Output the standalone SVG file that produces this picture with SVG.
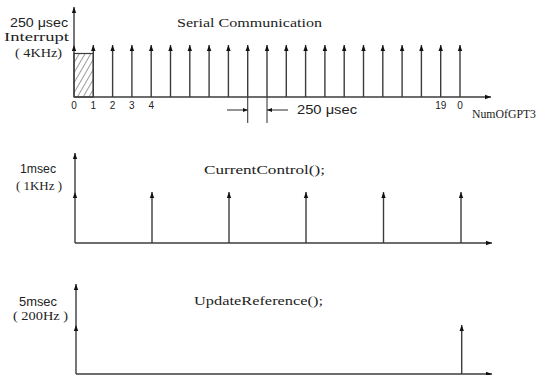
<svg xmlns="http://www.w3.org/2000/svg" width="539" height="375" viewBox="0 0 539 375">
  <style>
    .ln { stroke: #3c3c3c; stroke-width: 1.1; fill: none; }
    .ax { stroke: #3c3c3c; stroke-width: 1.4; fill: none; marker-end: url(#ah); }
    .pl { stroke: #3c3c3c; stroke-width: 1.4; fill: none; marker-end: url(#ah); }
    .hd { fill: #111; }
    .sf { font-family: "Liberation Serif", "DejaVu Serif", serif; font-size: 13px; fill: #222; }
    .sm { font-family: "Liberation Serif", "DejaVu Serif", serif; font-size: 12px; fill: #222; }
    .ss { font-family: "Liberation Sans", "DejaVu Sans", sans-serif; font-size: 12px; fill: #222; }
    .tk { font-family: "Liberation Sans", "DejaVu Sans", sans-serif; font-size: 10px; fill: #222; text-anchor: middle; }
  </style>
  <defs>
    <marker id="ah" markerWidth="8" markerHeight="8" refX="6" refY="3" orient="auto" markerUnits="userSpaceOnUse">
      <path d="M0,0.8 L6,3 L0,5.2 Z" fill="#111"/>
    </marker>
    <marker id="ahs" markerWidth="8" markerHeight="8" refX="5" refY="2.5" orient="auto" markerUnits="userSpaceOnUse">
      <path d="M0,0.5 L5,2.5 L0,4.5 Z" fill="#111"/>
    </marker>
    <pattern id="hatch" width="5" height="5" patternUnits="userSpaceOnUse" patternTransform="rotate(30)">
      <line x1="0" y1="0" x2="0" y2="5" stroke="#3c3c3c" stroke-width="1"/>
    </pattern>
  </defs>

  <!-- Chart 1: 250 usec interrupt -->
  <g id="chart-interrupt">
    <text class="ss" x="10" y="27" textLength="58" lengthAdjust="spacingAndGlyphs">250 μsec</text>
    <text class="sm" x="4" y="41" textLength="65" lengthAdjust="spacingAndGlyphs">Interrupt</text>
    <text class="sm" x="15" y="57" textLength="47" lengthAdjust="spacingAndGlyphs">( 4KHz)</text>
    <text class="sf" x="177" y="27" textLength="145" lengthAdjust="spacingAndGlyphs">Serial Communication</text>

    <rect x="74" y="53.5" width="19.3" height="43.5" fill="url(#hatch)" stroke="#3c3c3c" stroke-width="1.2"/>

    <line class="ax" x1="74" y1="97" x2="74" y2="7"/>
    <path class="hd" d="M71.8,51 L74,45 L76.2,51 Z"/>
    <line class="ax" x1="74" y1="97" x2="491" y2="97"/>

    <g id="pulses-1">
      <line class="pl" x1="93.3" y1="97" x2="93.3" y2="45"/>
      <line class="pl" x1="112.6" y1="97" x2="112.6" y2="45"/>
      <line class="pl" x1="131.9" y1="97" x2="131.9" y2="45"/>
      <line class="pl" x1="151.2" y1="97" x2="151.2" y2="45"/>
      <line class="pl" x1="170.5" y1="97" x2="170.5" y2="45"/>
      <line class="pl" x1="189.8" y1="97" x2="189.8" y2="45"/>
      <line class="pl" x1="209.1" y1="97" x2="209.1" y2="45"/>
      <line class="pl" x1="228.4" y1="97" x2="228.4" y2="45"/>
      <line class="pl" x1="247.7" y1="97" x2="247.7" y2="45"/>
      <line class="pl" x1="267" y1="97" x2="267" y2="45"/>
      <line class="pl" x1="286.3" y1="97" x2="286.3" y2="45"/>
      <line class="pl" x1="305.6" y1="97" x2="305.6" y2="45"/>
      <line class="pl" x1="324.9" y1="97" x2="324.9" y2="45"/>
      <line class="pl" x1="344.2" y1="97" x2="344.2" y2="45"/>
      <line class="pl" x1="363.5" y1="97" x2="363.5" y2="45"/>
      <line class="pl" x1="382.8" y1="97" x2="382.8" y2="45"/>
      <line class="pl" x1="402.1" y1="97" x2="402.1" y2="45"/>
      <line class="pl" x1="421.4" y1="97" x2="421.4" y2="45"/>
      <line class="pl" x1="440.7" y1="97" x2="440.7" y2="45"/>
      <line class="pl" x1="460" y1="97" x2="460" y2="45"/>
    </g>

    <g id="ticks-1">
      <text class="tk" x="74" y="109">0</text>
      <text class="tk" x="93.3" y="109">1</text>
      <text class="tk" x="112.6" y="109">2</text>
      <text class="tk" x="131.9" y="109">3</text>
      <text class="tk" x="151.2" y="109">4</text>
      <text class="tk" x="440.7" y="109">19</text>
      <text class="tk" x="460" y="109">0</text>
    </g>
    <text class="sm" x="472" y="118" textLength="64" lengthAdjust="spacingAndGlyphs">NumOfGPT3</text>
  </g>

  <!-- Period dimension -->
  <g id="dimension">
    <line class="ln" x1="247.7" y1="97" x2="247.7" y2="123"/>
    <line class="ln" x1="267" y1="97" x2="267" y2="123"/>
    <line class="ln" x1="227" y1="110" x2="247.7" y2="110" marker-end="url(#ahs)"/>
    <line class="ln" x1="288" y1="110" x2="267" y2="110" marker-end="url(#ahs)"/>
    <text class="ss" x="297" y="114" textLength="60" lengthAdjust="spacingAndGlyphs" style="font-size:13px">250 μsec</text>
  </g>

  <!-- Chart 2: 1 msec current control -->
  <g id="chart-current">
    <text class="ss" x="20" y="173" textLength="36" lengthAdjust="spacingAndGlyphs">1msec</text>
    <text class="sm" x="16" y="190" textLength="46" lengthAdjust="spacingAndGlyphs">( 1KHz )</text>
    <text class="sf" x="204" y="174" textLength="121" lengthAdjust="spacingAndGlyphs">CurrentControl();</text>

    <line class="ax" x1="75" y1="243" x2="75" y2="153"/>
    <path class="hd" d="M72.8,198 L75,192 L77.2,198 Z"/>
    <line class="ax" x1="75" y1="243" x2="492" y2="243"/>

    <g id="pulses-2">
      <line class="pl" x1="152" y1="243" x2="152" y2="192"/>
      <line class="pl" x1="229" y1="243" x2="229" y2="192"/>
      <line class="pl" x1="306" y1="243" x2="306" y2="192"/>
      <line class="pl" x1="383.5" y1="243" x2="383.5" y2="192"/>
      <line class="pl" x1="461" y1="243" x2="461" y2="192"/>
    </g>
  </g>

  <!-- Chart 3: 5 msec reference update -->
  <g id="chart-reference">
    <text class="ss" x="19" y="306" textLength="38" lengthAdjust="spacingAndGlyphs">5msec</text>
    <text class="sm" x="13" y="320" textLength="55" lengthAdjust="spacingAndGlyphs">( 200Hz )</text>
    <text class="sf" x="194" y="305" textLength="129" lengthAdjust="spacingAndGlyphs">UpdateReference();</text>

    <line class="ax" x1="76" y1="374" x2="76" y2="284"/>
    <path class="hd" d="M73.8,331 L76,325 L78.2,331 Z"/>
    <line class="ax" x1="76" y1="374" x2="492" y2="374"/>

    <line class="pl" x1="461.7" y1="374" x2="461.7" y2="325"/>
  </g>
</svg>
